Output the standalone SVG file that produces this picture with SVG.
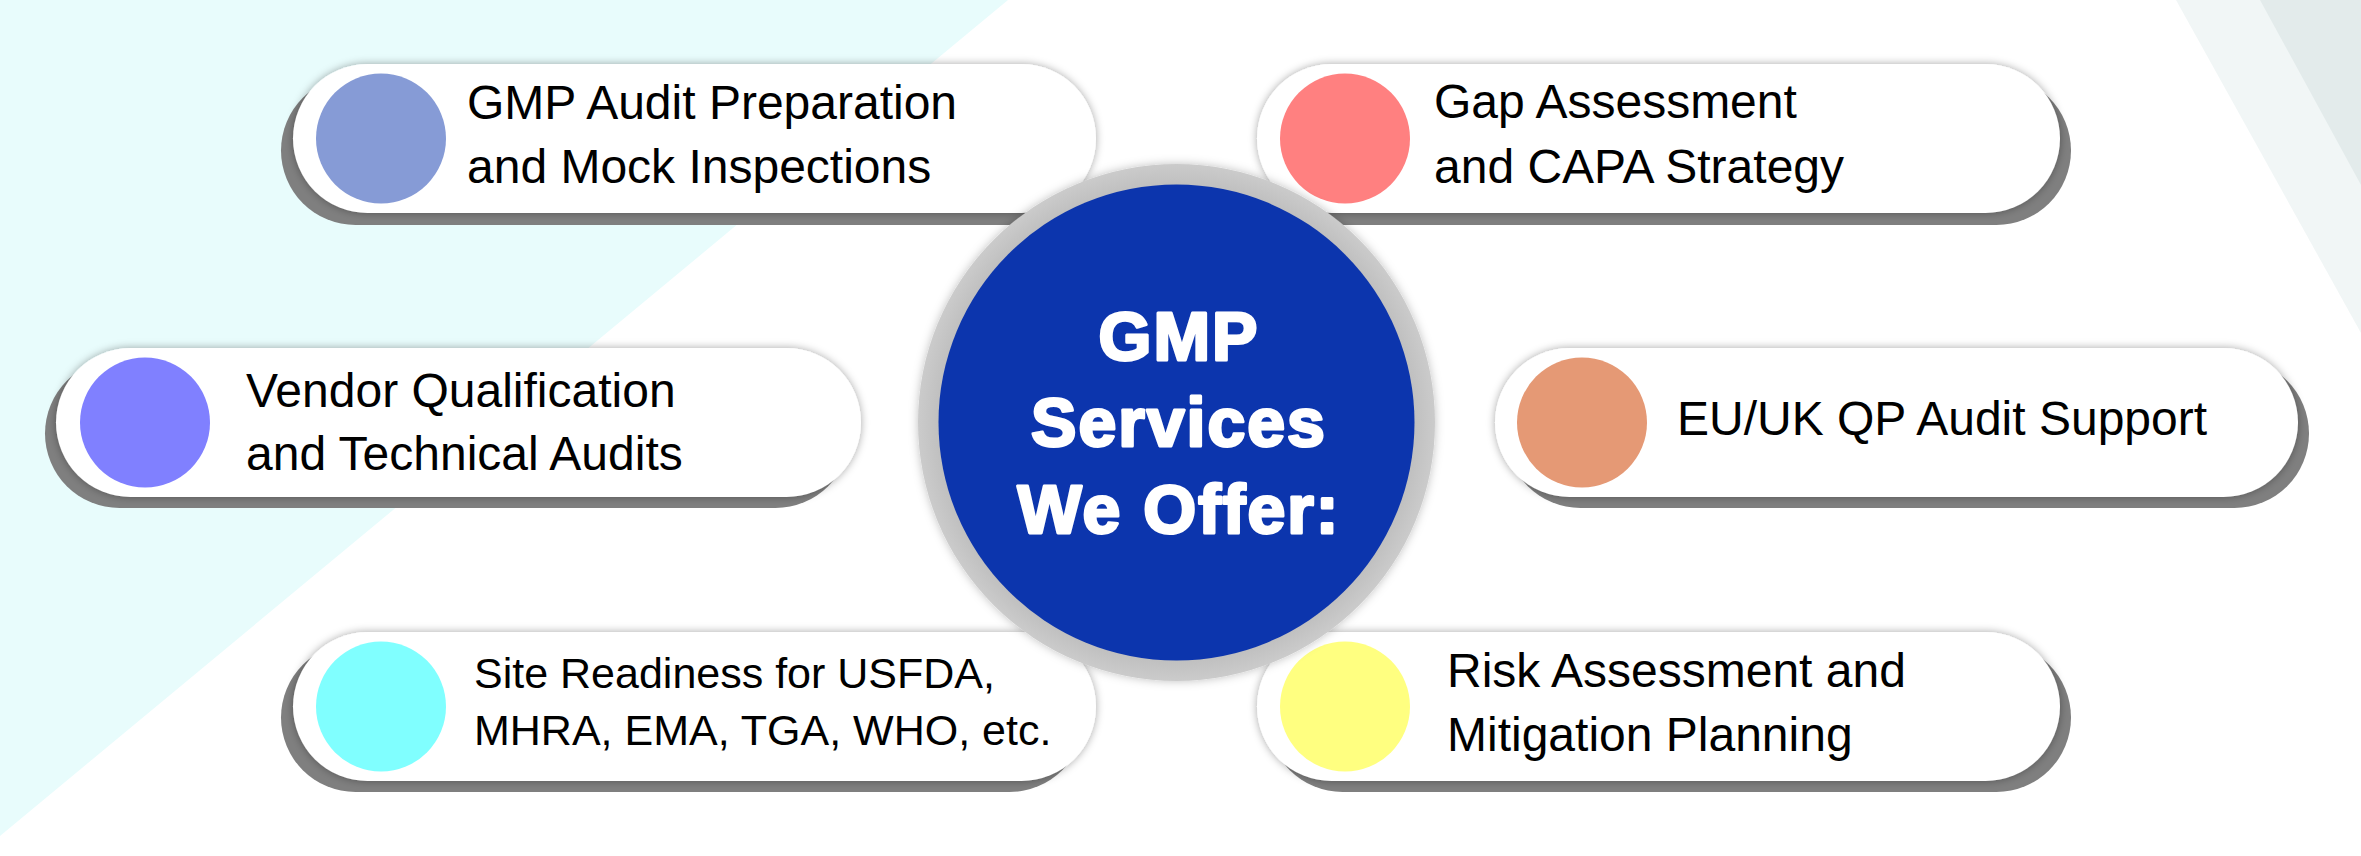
<svg xmlns="http://www.w3.org/2000/svg" width="2361" height="856" viewBox="0 0 2361 856">
<defs>
<filter id="soft" x="-10%" y="-30%" width="120%" height="160%">
<feDropShadow dx="0" dy="0" stdDeviation="4" flood-color="#000" flood-opacity="0.35"/>
</filter>
<filter id="ringGlow" x="-20%" y="-20%" width="140%" height="140%">
<feDropShadow dx="0" dy="0" stdDeviation="5" flood-color="#000" flood-opacity="0.25"/>
</filter>
<radialGradient id="ringGrad" cx="0.5" cy="0.5" r="0.5">
<stop offset="0.9" stop-color="#bdbdbd"/>
<stop offset="1" stop-color="#cbcbcb"/>
</radialGradient>
</defs>
<style>
.shadow{fill:#7f7f7f}
.pill{fill:#ffffff;filter:url(#soft)}
.lbl{font-family:"Liberation Sans",Arial,sans-serif;font-size:48px;fill:#000}
.sm{font-size:43px}
.title{font-family:"Liberation Sans",Arial,sans-serif;font-weight:bold;font-size:68px;fill:#fff;stroke:#fff;stroke-width:3;stroke-linejoin:round;letter-spacing:2px;text-anchor:middle}
</style>
<rect width="2361" height="856" fill="#ffffff"/>
<g id="background">
<polygon points="0,0 1008,0 0,836" fill="#e8fcfc"/>
<polygon points="2176,0 2361,0 2361,333" fill="#f1f6f6"/>
<polygon points="2260,0 2361,0 2361,185" fill="#e3ebeb"/>
</g>
<g id="connectors"/>
<g id="node-gmp-audit">
<rect class="shadow" x="281" y="76" width="803" height="149" rx="74.5"/>
<rect class="pill" x="293" y="64" width="803" height="149" rx="74.5"/>
<circle cx="381" cy="138.5" r="65" fill="#869bd6"/>
<text class="lbl" x="467" y="119">GMP Audit Preparation</text>
<text class="lbl" x="467" y="183">and Mock Inspections</text>
</g>
<g id="node-gap">
<rect class="shadow" x="1268" y="76" width="803" height="149" rx="74.5"/>
<rect class="pill" x="1257" y="64" width="803" height="149" rx="74.5"/>
<circle cx="1345" cy="138.5" r="65" fill="#ff8080"/>
<text class="lbl" x="1434" y="118">Gap Assessment</text>
<text class="lbl" x="1434" y="183">and CAPA Strategy</text>
</g>
<g id="node-vendor">
<rect class="shadow" x="45" y="359" width="805" height="149" rx="74.5"/>
<rect class="pill" x="56" y="348" width="805" height="149" rx="74.5"/>
<circle cx="145" cy="422.5" r="65" fill="#8080ff"/>
<text class="lbl" x="246" y="407">Vendor Qualification</text>
<text class="lbl" x="246" y="470">and Technical Audits</text>
</g>
<g id="node-euuk">
<rect class="shadow" x="1506" y="359" width="803" height="149" rx="74.5"/>
<rect class="pill" x="1495" y="348" width="803" height="149" rx="74.5"/>
<circle cx="1582" cy="422.5" r="65" fill="#e59975"/>
<text class="lbl" x="1677" y="435">EU/UK QP Audit Support</text>
</g>
<g id="node-site">
<rect class="shadow" x="281" y="643" width="803" height="149" rx="74.5"/>
<rect class="pill" x="293" y="632" width="803" height="149" rx="74.5"/>
<circle cx="381" cy="706.5" r="65" fill="#80ffff"/>
<text class="lbl sm" x="474" y="688">Site Readiness for USFDA,</text>
<text class="lbl sm" x="474" y="745">MHRA, EMA, TGA, WHO, etc.</text>
</g>
<g id="node-risk">
<rect class="shadow" x="1268" y="643" width="803" height="149" rx="74.5"/>
<rect class="pill" x="1257" y="632" width="803" height="149" rx="74.5"/>
<circle cx="1345" cy="706.5" r="65" fill="#ffff80"/>
<text class="lbl" x="1447" y="687">Risk Assessment and</text>
<text class="lbl" x="1447" y="751">Mitigation Planning</text>
</g>
<g id="node-center">
<circle cx="1176.5" cy="422.5" r="258.5" fill="url(#ringGrad)" filter="url(#ringGlow)"/>
<circle cx="1176.5" cy="422.5" r="238" fill="#0c35ad"/>
<text class="title" x="1179" y="360">GMP</text>
<text class="title" x="1179" y="446">Services</text>
<text class="title" x="1179" y="533">We Offer:</text>
</g>
</svg>
